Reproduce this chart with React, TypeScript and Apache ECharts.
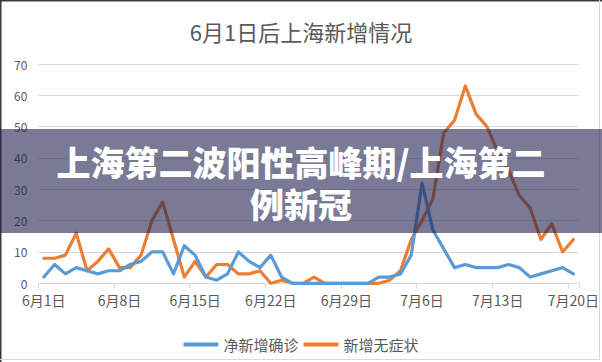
import React, { useEffect, useRef } from "react";
import * as echarts from "echarts";

// Categories: daily dates 6月1日 … 7月20日
const juneDays = 30;
const julyDays = 20;
const categories: string[] = [];
for (let d = 1; d <= juneDays; d++) categories.push(`6月${d}日`);
for (let d = 1; d <= julyDays; d++) categories.push(`7月${d}日`);

// 净新增确诊
const confirmed = [
  2, 6, 3, 5, 4, 3, 4, 4, 6, 7,
  10, 10, 3, 12, 9, 2, 1, 3, 10, 7,
  5, 9, 2, 0, 0, 0, 0, 0, 0, 0,
  0, 2, 2, 3, 9, 32, 17, 11, 5, 6,
  5, 5, 5, 6, 5, 2, 3, 4, 5, 3,
];

// 新增无症状
const asymptomatic = [
  8, 8, 9, 16, 4, 7, 11, 5, 5, 9,
  20, 26, 14, 2, 7, 2, 6, 6, 3, 3,
  4, 0, 1, 0, 0, 2, 0, 0, 0, 0,
  0, 0, 1, 4, 14, 20, 27, 48, 52, 63,
  54, 50, 42, 36, 28, 24, 14, 19, 10, 14,
];

const seriesNames = ["净新增确诊", "新增无症状"];
const titleText = "6月1日后上海新增情况";
const bannerText = "上海第二波阳性高峰期/上海第二\n例新冠";

const FONT = "'Noto Sans CJK SC', 'Noto Sans', sans-serif";

export default function App() {
  const ref = useRef<HTMLDivElement>(null);

  useEffect(() => {
    if (!ref.current) return;
    const chart = echarts.init(ref.current, undefined, { renderer: "svg" });
    chart.setOption({
      animation: false,
      backgroundColor: "#ffffff",
      title: {
        text: titleText,
        left: "center",
        top: 15,
        textStyle: {
          fontSize: 22,
          fontWeight: "normal",
          color: "#595959",
          fontFamily: FONT,
        },
      },
      grid: { left: 38.4, right: 18.5, top: 64, bottom: 78.7, containLabel: false },
      xAxis: {
        type: "category",
        data: categories,
        boundaryGap: true,
        axisLine: { lineStyle: { color: "#d9d9d9", width: 1 } },
        axisTick: { show: true, interval: 6, length: 5, lineStyle: { color: "#d9d9d9" } },
        axisLabel: {
          interval: 6,
          color: "#595959",
          fontSize: 14,
          margin: 10,
          fontFamily: FONT,
        },
        splitLine: { show: false },
      },
      yAxis: {
        type: "value",
        min: 0,
        max: 70,
        interval: 10,
        axisLine: { show: false },
        axisTick: { show: false },
        axisLabel: { color: "#595959", fontSize: 12, margin: 11, fontFamily: FONT },
        splitLine: { lineStyle: { color: "#d9d9d9", width: 1 } },
      },
      legend: {
        data: seriesNames.map((n) => ({ name: n, icon: "roundRect" })),
        left: "center",
        top: 332,
        itemWidth: 35,
        itemHeight: 4,
        itemGap: 5,
        textStyle: { fontSize: 15, color: "#595959", fontFamily: FONT },
      },
      series: [
        {
          type: "line",
          name: seriesNames[0],
          data: confirmed,
          symbol: "none",
          lineStyle: { width: 3.2, color: "#5B9BD5", cap: "round", join: "round" },
          itemStyle: { color: "#5B9BD5" },
          z: 3,
        },
        {
          type: "line",
          name: seriesNames[1],
          data: asymptomatic,
          symbol: "none",
          lineStyle: { width: 3.2, color: "#ED7D31", cap: "round", join: "round" },
          itemStyle: { color: "#ED7D31" },
          z: 2,
        },
      ],
      graphic: [
        {
          type: "line",
          z: 100,
          shape: { x1: 0.5, y1: 0, x2: 0.5, y2: 362 },
          style: { stroke: "#3a3a3a", lineWidth: 2 },
        },
        {
          type: "line",
          z: 100,
          shape: { x1: 0, y1: 0.5, x2: 602, y2: 0.5 },
          style: { stroke: "#3a3a3a", lineWidth: 2 },
        },
        {
          type: "line",
          z: 100,
          shape: { x1: 0, y1: 359.5, x2: 600, y2: 359.5 },
          style: { stroke: "#d9d9d9", lineWidth: 1 },
        },
        {
          type: "line",
          z: 100,
          shape: { x1: 599.5, y1: 0, x2: 599.5, y2: 360 },
          style: { stroke: "#d9d9d9", lineWidth: 1 },
        },
        {
          type: "rect",
          z: 200,
          shape: { x: 0, y: 129, width: 602, height: 104 },
          style: { fill: "rgba(33,33,80,0.6)" },
        },
        {
          type: "text",
          z: 210,
          x: 301,
          y: 182,
          style: {
            text: bannerText,
            align: "center",
            verticalAlign: "middle",
            lineHeight: 42,
            fill: "#ffffff",
            font: `900 34px ${FONT}`,
          },
        },
      ],
    });
    return () => chart.dispose();
  }, []);

  return (
    <div
      ref={ref}
      style={{ position: "absolute", left: 0, top: 0, width: 602, height: 362 }}
    />
  );
}
